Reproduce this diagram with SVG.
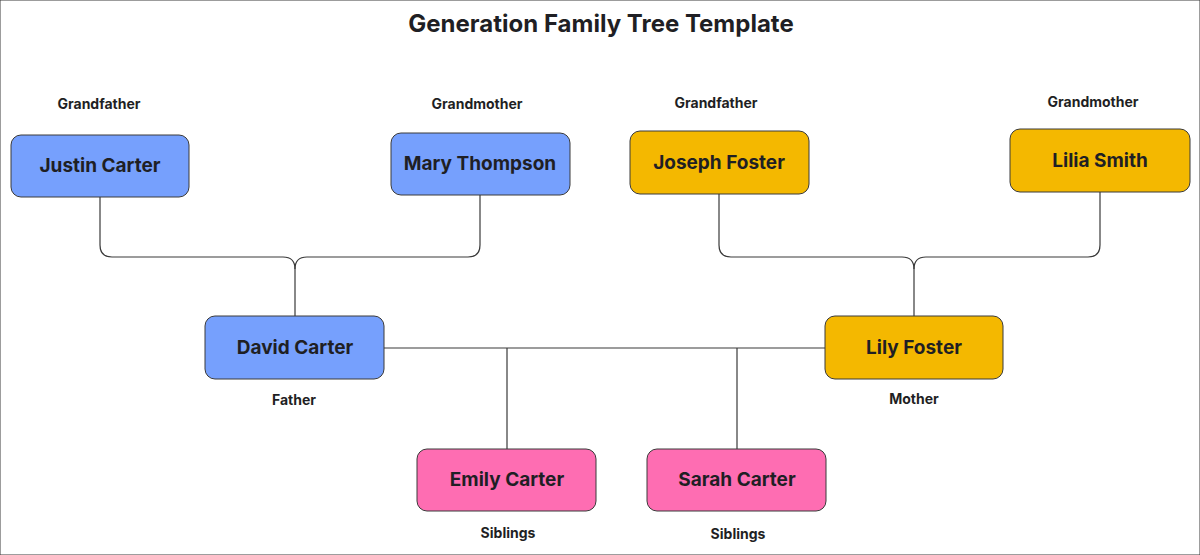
<svg xmlns="http://www.w3.org/2000/svg" width="1200" height="555" viewBox="0 0 1200 555">
<style>
text{font-family:Inter,"Liberation Sans",sans-serif;fill:#1f1f24;text-anchor:middle;font-weight:700}
.t{font-size:24px}
.n{font-size:19px}
.l{font-size:14px}
.b{fill:#76a0fd}.y{fill:#f4b800}.p{fill:#fe6db2}
rect{stroke:#3a3a3a;stroke-width:1}
.c{fill:none;stroke:#3a3a3a;stroke-width:1.2}
</style>
<rect width="1200" height="555" fill="#fff" stroke="none"/>
<text class="t" x="601" y="32">Generation Family Tree Template</text>
<g id="connectors">
<path class="c" d="M100 197V245Q100 257 112 257H283Q295 257 295 269V316"/>
<path class="c" d="M480 195V245Q480 257 468 257H307Q295 257 295 269"/>
<path class="c" d="M719 194V245Q719 257 731 257H902Q914 257 914 269V316"/>
<path class="c" d="M1100 192V245Q1100 257 1088 257H926Q914 257 914 269"/>
<path class="c" d="M384 348H825M507 348V449M737 348V449"/>
</g>
<g id="justin"><rect class="b" x="11" y="135" width="178" height="62" rx="10" stroke="none"/><text class="n" x="100" y="172">Justin Carter</text><text class="l" x="99" y="109">Grandfather</text></g>
<g id="mary"><rect class="b" x="391" y="133" width="179" height="62" rx="10"/><text class="n" x="480" y="170">Mary Thompson</text><text class="l" x="477" y="109">Grandmother</text></g>
<g id="joseph"><rect class="y" x="630" y="131" width="179" height="63" rx="10"/><text class="n" x="719" y="169">Joseph Foster</text><text class="l" x="716" y="108">Grandfather</text></g>
<g id="lilia"><rect class="y" x="1010" y="129" width="180" height="63" rx="10"/><text class="n" x="1100" y="167">Lilia Smith</text><text class="l" x="1093" y="107">Grandmother</text></g>
<g id="david"><rect class="b" x="205" y="316" width="179" height="63" rx="10"/><text class="n" x="295" y="354">David Carter</text><text class="l" x="294" y="405">Father</text></g>
<g id="lily"><rect class="y" x="825" y="316" width="178" height="63" rx="10"/><text class="n" x="914" y="354">Lily Foster</text><text class="l" x="914" y="404">Mother</text></g>
<g id="emily"><rect class="p" x="417" y="449" width="179" height="62" rx="10"/><text class="n" x="507" y="486">Emily Carter</text><text class="l" x="508" y="538">Siblings</text></g>
<g id="sarah"><rect class="p" x="647" y="449" width="179" height="62" rx="10"/><text class="n" x="737" y="486">Sarah Carter</text><text class="l" x="738" y="539">Siblings</text></g>
</svg>
